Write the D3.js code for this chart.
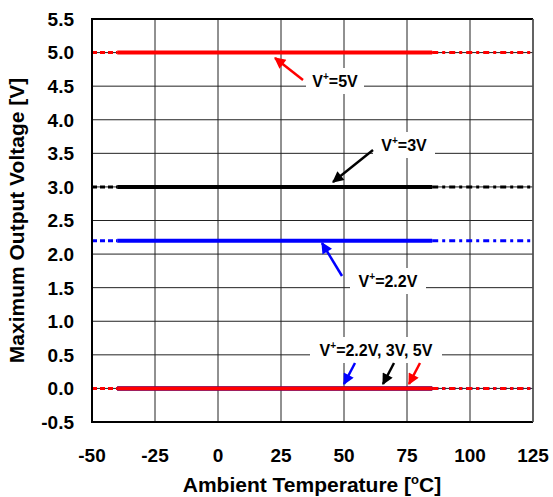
<!DOCTYPE html>
<html><head><meta charset="utf-8">
<script src="https://cdn.jsdelivr.net/npm/d3@7"></script>
<style>body{margin:0;background:#fff}svg{display:block;font-family:"Liberation Sans",Arial,sans-serif;font-weight:bold}</style>
</head><body><svg id="c" width="553" height="497"></svg>
<script>
const temps = [-40, -25, 0, 25, 50, 75, 85];
const extLeft = [-50, -40];
const extRight = [85, 125];
const vHigh5 = [5.0, 5.0, 5.0, 5.0, 5.0, 5.0, 5.0];
const vHigh3 = [3.0, 3.0, 3.0, 3.0, 3.0, 3.0, 3.0];
const vHigh22 = [2.2, 2.2, 2.2, 2.2, 2.2, 2.2, 2.2];
const vLow = [0, 0, 0, 0, 0, 0, 0];
const xTicks = [-50, -25, 0, 25, 50, 75, 100, 125];
const yTicks = [-0.5, 0.0, 0.5, 1.0, 1.5, 2.0, 2.5, 3.0, 3.5, 4.0, 4.5, 5.0, 5.5];

const svg = d3.select("#c");
const L = 92, R = 533, T = 19, B = 422;
const x = d3.scaleLinear().domain([-50, 125]).range([L, R]);
const y = d3.scaleLinear().domain([-0.5, 5.5]).range([B, T]);

// grid
svg.append("g").selectAll("line").data(yTicks).join("line")
  .attr("x1", L).attr("x2", R).attr("y1", d => y(d)).attr("y2", d => y(d))
  .attr("stroke", "#222").attr("stroke-width", 1);
svg.append("g").selectAll("line").data(xTicks).join("line")
  .attr("y1", T).attr("y2", B).attr("x1", d => x(d)).attr("x2", d => x(d))
  .attr("stroke", "#222").attr("stroke-width", 1);

const line = d3.line().x(d => x(d[0])).y(d => y(d[1]));
const series = [
  {v: vHigh5, c: "#ff0000"},
  {v: vHigh3, c: "#000000"},
  {v: vHigh22, c: "#0000ff"},
  {v: vLow, c: "#000000"},
  {v: vLow, c: "#0000ff"},
  {v: vLow, c: "#ff0000"}
];
series.forEach(s => {
  svg.append("path").attr("d", line(extLeft.map(t => [t, s.v[0]])))
    .attr("stroke", s.c).attr("stroke-width", 3).attr("fill", "none").attr("stroke-dasharray", "5,3");
  svg.append("path").attr("d", line(extRight.map(t => [t, s.v[s.v.length-1]])))
    .attr("stroke", s.c).attr("stroke-width", 3).attr("fill", "none").attr("stroke-dasharray", "6,4,3,4");
  svg.append("path").attr("d", line(temps.map((t, i) => [t, s.v[i]])))
    .attr("stroke", s.c).attr("stroke-width", 4).attr("fill", "none");
});

// frame
svg.append("path").attr("d", `M${R},${T}H${L}V${B}H${R}`).attr("fill", "none").attr("stroke", "#000").attr("stroke-width", 2);
svg.append("line").attr("x1", R).attr("x2", R).attr("y1", T).attr("y2", B).attr("stroke", "#555").attr("stroke-width", 1.5);

// axes labels
svg.append("g").selectAll("text").data(yTicks).join("text")
  .attr("x", 74).attr("y", d => y(d)).attr("dy", "0.36em").attr("text-anchor", "end")
  .attr("font-size", 19).text(d => d.toFixed(1));
svg.append("g").selectAll("text").data(xTicks).join("text")
  .attr("x", d => x(d)).attr("y", 462).attr("text-anchor", "middle")
  .attr("font-size", 19).text(d => d);

const xt = svg.append("text").attr("x", 312).attr("y", 492).attr("text-anchor", "middle").attr("font-size", 21);
xt.append("tspan").text("Ambient Temperature [");
xt.append("tspan").attr("dy", -8).attr("font-size", 13).text("o");
xt.append("tspan").attr("dy", 8).text("C]");
svg.append("text").attr("transform", `translate(24,${(T+B)/2}) rotate(-90)`)
  .attr("text-anchor", "middle").attr("font-size", 21).text("Maximum Output Voltage [V]");

// annotations
svg.append("defs").selectAll("marker").data(["#ff0000", "#000000", "#0000ff"]).join("marker")
  .attr("id", (d, i) => "m" + i).attr("viewBox", "0 0 10 10").attr("refX", 9).attr("refY", 5)
  .attr("markerWidth", 5).attr("markerHeight", 4.5).attr("orient", "auto")
  .attr("markerUnits", "strokeWidth")
  .append("path").attr("d", "M0,0 L10,5 L0,10 z").attr("fill", d => d);
const mIdx = {"#ff0000": 0, "#000000": 1, "#0000ff": 2};
function label(cx, cy, w, rest) {
  svg.append("rect").attr("x", cx - w/2).attr("y", cy - 13).attr("width", w).attr("height", 26).attr("fill", "#fff");
  const t = svg.append("text").attr("x", cx).attr("y", cy).attr("dy", "0.36em").attr("text-anchor", "middle").attr("font-size", 16);
  t.append("tspan").text("V");
  t.append("tspan").attr("dy", -7).attr("font-size", 10).text("+");
  t.append("tspan").attr("dy", 7).text(rest);
}
function arrow(x1, y1, x2, y2, c) {
  svg.append("line").attr("x1", x1).attr("y1", y1).attr("x2", x2).attr("y2", y2)
    .attr("stroke", c).attr("stroke-width", 2.5).attr("marker-end", `url(#m${mIdx[c]})`);
}
label(335, 81, 58, "=5V");
arrow(303, 80, 275, 58, "#ff0000");
label(404, 145, 62, "=3V");
arrow(373, 150, 333, 182, "#000000");
label(388, 281, 76, "=2.2V");
arrow(342, 276, 322, 243, "#0000ff");
label(376, 350, 132, "=2.2V, 3V, 5V");
arrow(355, 363, 344, 384, "#0000ff");
arrow(394, 363, 383, 384, "#000000");
arrow(420, 363, 409, 384, "#ff0000");
</script></body></html>
